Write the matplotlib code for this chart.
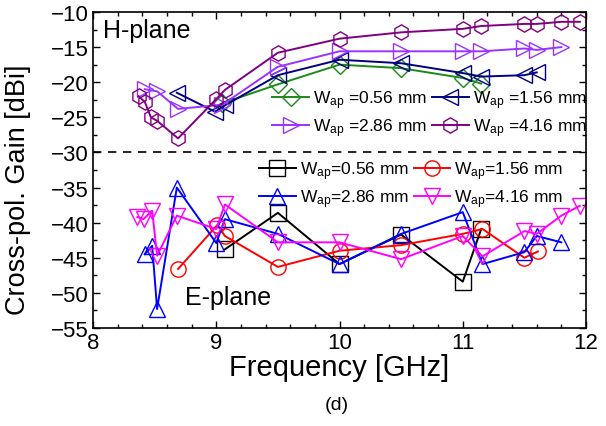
import matplotlib.pyplot as plt
from matplotlib.ticker import MultipleLocator

plt.rcParams['font.family'] = ['Liberation Sans', 'DejaVu Sans']
plt.rcParams['mathtext.fontset'] = 'custom'
plt.rcParams['mathtext.rm'] = 'Liberation Sans'
plt.rcParams['mathtext.it'] = 'Liberation Sans'

# H-plane data (frequency GHz, cross-pol gain dBi)
h056_f = [9.05, 9.5, 10.0, 10.5, 11.0, 11.15]
h056_g = [-23.0, -20.3, -17.5, -18.0, -19.4, -20.2]
h156_f = [8.68, 8.99, 9.07, 9.5, 10.0, 10.5, 11.0, 11.15, 11.5, 11.6]
h156_g = [-21.5, -24.2, -23.3, -19.0, -16.8, -17.3, -18.7, -19.2, -19.0, -18.6]
h286_f = [8.42, 8.52, 8.69, 9.05, 9.5, 10.0, 10.5, 11.0, 11.15, 11.5, 11.6, 11.8]
h286_g = [-21.0, -21.3, -23.8, -23.2, -17.8, -15.6, -15.6, -15.6, -15.6, -15.2, -15.4, -15.0]
h416_f = [8.37, 8.42, 8.47, 8.52, 8.69, 9.0, 9.07, 9.5, 10.0, 10.5, 11.0, 11.15, 11.5, 11.6, 11.8, 11.95]
h416_g = [-22.0, -22.8, -25.0, -25.5, -28.0, -22.4, -21.1, -15.8, -13.8, -12.9, -12.4, -12.0, -11.7, -11.7, -11.4, -11.4]

# E-plane data
e056_f = [9.07, 9.5, 10.0, 10.5, 11.0, 11.15]
e056_g = [-43.8, -38.6, -45.9, -41.7, -48.4, -40.9]
e156_f = [8.69, 9.01, 9.07, 9.5, 10.0, 10.5, 11.0, 11.16, 11.5, 11.61]
e156_g = [-46.6, -40.3, -41.9, -46.3, -44.0, -43.2, -41.6, -40.9, -45.0, -44.1]
e286_f = [8.42, 8.48, 8.52, 8.68, 9.0, 9.07, 9.5, 10.0, 10.5, 11.0, 11.16, 11.5, 11.6, 11.8]
e286_g = [-44.5, -43.3, -52.3, -35.0, -42.9, -39.5, -41.6, -45.9, -41.6, -38.5, -45.9, -44.2, -41.9, -42.8]
e416_f = [8.36, 8.41, 8.48, 8.52, 8.68, 9.0, 9.07, 9.5, 10.0, 10.5, 11.0, 11.16, 11.5, 11.6, 11.8, 11.95]
e416_g = [-39.2, -39.5, -38.3, -44.7, -39.0, -40.9, -37.4, -42.8, -42.8, -45.2, -41.9, -44.8, -41.2, -41.6, -39.0, -37.6]

fig = plt.figure(figsize=(6.06, 4.27), dpi=100)
ax = fig.add_axes([0.1535, 0.2295, 0.8135, 0.7401])

ms = 11
kw = dict(lw=1.4, ms=ms, mfc='none', mew=1.0)

ax.axhline(-30, color='black', ls='--', lw=1.2, dashes=(5, 4))

l1, = ax.plot(h056_f, h056_g, color='#1a8a1a', marker='D', label=r'W$_{ap}$ =0.56 mm', **dict(kw, ms=9))
l2, = ax.plot(h156_f, h156_g, color='#000080', marker='<', label=r'W$_{ap}$ =1.56 mm', **kw)
l3, = ax.plot(h286_f, h286_g, color='#9933ff', marker='>', label=r'W$_{ap}$ =2.86 mm', **kw)
l4, = ax.plot(h416_f, h416_g, color='#800080', marker='h', label=r'W$_{ap}$ =4.16 mm', **kw)

m1, = ax.plot(e056_f, e056_g, color='black', marker='s', label=r'W$_{ap}$=0.56 mm', **kw)
m2, = ax.plot(e156_f, e156_g, color='#ff0000', marker='o', label=r'W$_{ap}$=1.56 mm', **kw)
m3, = ax.plot(e286_f, e286_g, color='#0000ff', marker='^', label=r'W$_{ap}$=2.86 mm', **kw)
m4, = ax.plot(e416_f, e416_g, color='#ff00ff', marker='v', label=r'W$_{ap}$=4.16 mm', **kw)

leg_kw = dict(ncol=2, frameon=False, fontsize=12.5, handlelength=2.1,
              columnspacing=0.3, handletextpad=0.23, labelspacing=0.3,
              borderpad=0.2, borderaxespad=0)
leg1 = ax.legend([l1, l3, l2, l4], [l1.get_label(), l3.get_label(), l2.get_label(), l4.get_label()],
                 loc='upper left', bbox_to_anchor=(0.357, 0.77), **leg_kw)
ax.add_artist(leg1)
ax.legend([m1, m3, m2, m4], [m1.get_label(), m3.get_label(), m2.get_label(), m4.get_label()],
          loc='upper left', bbox_to_anchor=(0.33, 0.545), **leg_kw)

ax.text(8.08, -12.6, 'H-plane', fontsize=18, va='center')
ax.text(8.75, -50.6, 'E-plane', fontsize=18, va='center')

ax.set_xlim(8, 12)
ax.set_ylim(-55, -10)
ax.xaxis.set_major_locator(MultipleLocator(1))
ax.xaxis.set_minor_locator(MultipleLocator(0.2))
ax.yaxis.set_major_locator(MultipleLocator(5))
ax.yaxis.set_minor_locator(MultipleLocator(2.5))
ax.tick_params(which='both', direction='in', top=True, right=True, labelsize=16)
ax.tick_params(which='major', length=5, width=1, pad=3)
ax.tick_params(which='minor', length=3, width=1)
for s in ax.spines.values():
    s.set_linewidth(1.2)

ax.set_xlabel('Frequency [GHz]', fontsize=21, labelpad=0)
ax.set_ylabel('Cross-pol. Gain [dBi]', fontsize=19.5)
ax.yaxis.set_label_coords(-0.125, 0.44)
fig.text(0.556, 0.05, '(d)', fontsize=14, ha='center', va='center')

fig.savefig('out.png', dpi=100)
